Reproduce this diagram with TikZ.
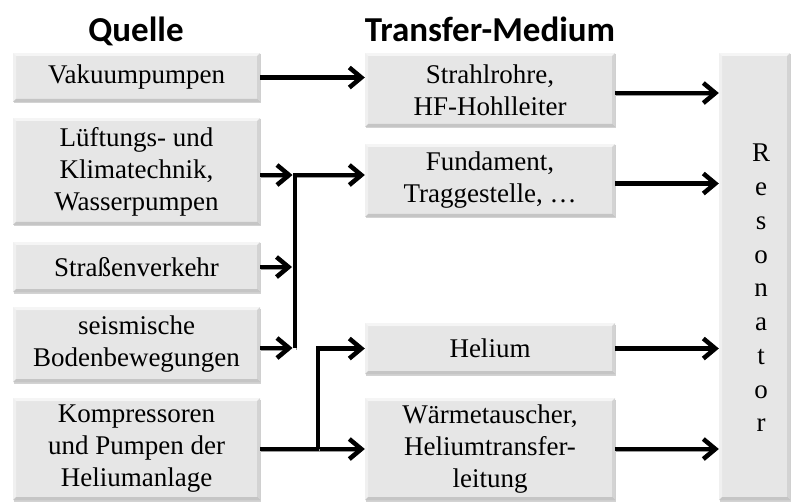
\documentclass[tikz,border=0pt]{standalone}
\usepackage{fontspec}
\setmainfont{Liberation Serif}
\newfontfamily\headfont{Carlito}
\usetikzlibrary{arrows.meta,shadows}
\definecolor{boxfill}{HTML}{E6E6E6}
\definecolor{flowshadow}{HTML}{9A9A9A}
\begin{document}
\begin{tikzpicture}[x=1pt,y=-1pt,
  bodytext/.style={font=\fontsize{27}{32}\selectfont},
  header/.style={font=\headfont\bfseries\fontsize{35}{40}\selectfont, anchor=base},
  bevel/.style={path picture={
    \fill[white,opacity=.6] (path picture bounding box.north west) -- (path picture bounding box.north east)
      -- ([xshift=-3pt,yshift=-3pt]path picture bounding box.north east)
      -- ([xshift=3pt,yshift=-3pt]path picture bounding box.north west) -- cycle;
    \fill[white,opacity=.4] (path picture bounding box.north west) -- (path picture bounding box.south west)
      -- ([xshift=3pt,yshift=3pt]path picture bounding box.south west)
      -- ([xshift=3pt,yshift=-3pt]path picture bounding box.north west) -- cycle;
    \fill[black,opacity=.14] (path picture bounding box.south west) -- (path picture bounding box.south east)
      -- ([xshift=-3pt,yshift=3pt]path picture bounding box.south east)
      -- ([xshift=3pt,yshift=3pt]path picture bounding box.south west) -- cycle;
    \fill[black,opacity=.08] (path picture bounding box.north east) -- (path picture bounding box.south east)
      -- ([xshift=-3pt,yshift=3pt]path picture bounding box.south east)
      -- ([xshift=-3pt,yshift=-3pt]path picture bounding box.north east) -- cycle;
  }},
  box/.style={rectangle, fill=boxfill, draw=none, inner sep=0pt, align=center, bodytext, bevel,
    drop shadow={shadow xshift=1pt, shadow yshift=-1.5pt, opacity=.35}},
  srcbox/.style={box, minimum width=247},
  medbox/.style={box, minimum width=250},
  flow/.style={line width=4.5pt, -{Straight Barb[length=12pt,width=20pt]},
    preaction={draw=flowshadow, transform canvas={shift={(1pt,-1.8pt)}}}}
]
\useasboundingbox (0,0) rectangle (791,502);

% column headings
\node[header] (hq) at (136,42) {Quelle};
\node[header] (ht) at (490,42) {Transfer-Medium};

% sources
\node[srcbox, minimum height=49]  (L1) at (136.5,77.5)  {Vakuumpumpen};
\node[srcbox, minimum height=107] (L2) at (136.5,171.5) {Lüftungs- und\\Klimatechnik,\\Wasserpumpen};
\node[srcbox, minimum height=50]  (L3) at (136.5,267)   {Straßenverkehr};
\node[srcbox, minimum height=75]  (L4) at (136.5,344.5) {seismische\\Bodenbewegungen};
\node[srcbox, minimum height=102] (L5) at (136.5,449)   {Kompressoren\\und Pumpen der\\Heliumanlage};

% transfer media
\node[medbox, minimum height=74]  (M1) at (490,90)    {Strahlrohre,\\HF-Hohlleiter};
\node[medbox, minimum height=73]  (M2) at (490,180.5) {Fundament,\\Traggestelle, \dots};
\node[medbox, minimum height=51]  (M3) at (490,348.5) {Helium};
\node[medbox, minimum height=102] (M4) at (490,449)   {Wärmetauscher,\\Heliumtransfer-\\leitung};

% resonator
\node[box, minimum width=71, minimum height=447] (R) at (754.5,276.5) {};
\node[inner sep=0pt, align=center, font=\fontsize{27}{33.75}\selectfont] (Rt) at (761,288) {R\\e\\s\\o\\n\\a\\t\\o\\r};

% collecting bus for mechanical sources
\coordinate (bT) at (295,175);
\coordinate (bB) at (295,348);
\coordinate (bS) at (292,267);
% branch of the helium plant
\coordinate (hB) at (318,449);
\coordinate (hT) at (318,348.5);

\draw[flow] (L1.east) -- (L1.east -| M1.west);
\draw[flow] (bB) -- (bT) -- (bT -| M2.west);
\draw[flow] (L2.east |- bT) -- ([xshift=-2.5pt]bT);
\draw[flow] (L3.east |- bS) -- (bS);
\draw[flow] (L4.east |- bB) -- ([xshift=-2.5pt]bB);
\draw[flow] (L5.east) -- (L5.east -| M4.west);
\draw[flow] (hB) -- (hT) -- (M3.west);

\draw[flow] ([yshift=-3pt]M1.east) -- ([yshift=-3pt]M1.east -| R.west);
\draw[flow] ([yshift=-3pt]M2.east) -- ([yshift=-3pt]M2.east -| R.west);
\draw[flow] (M3.east) -- (M3.east -| R.west);
\draw[flow] (M4.east) -- (M4.east -| R.west);
\end{tikzpicture}
\end{document}
